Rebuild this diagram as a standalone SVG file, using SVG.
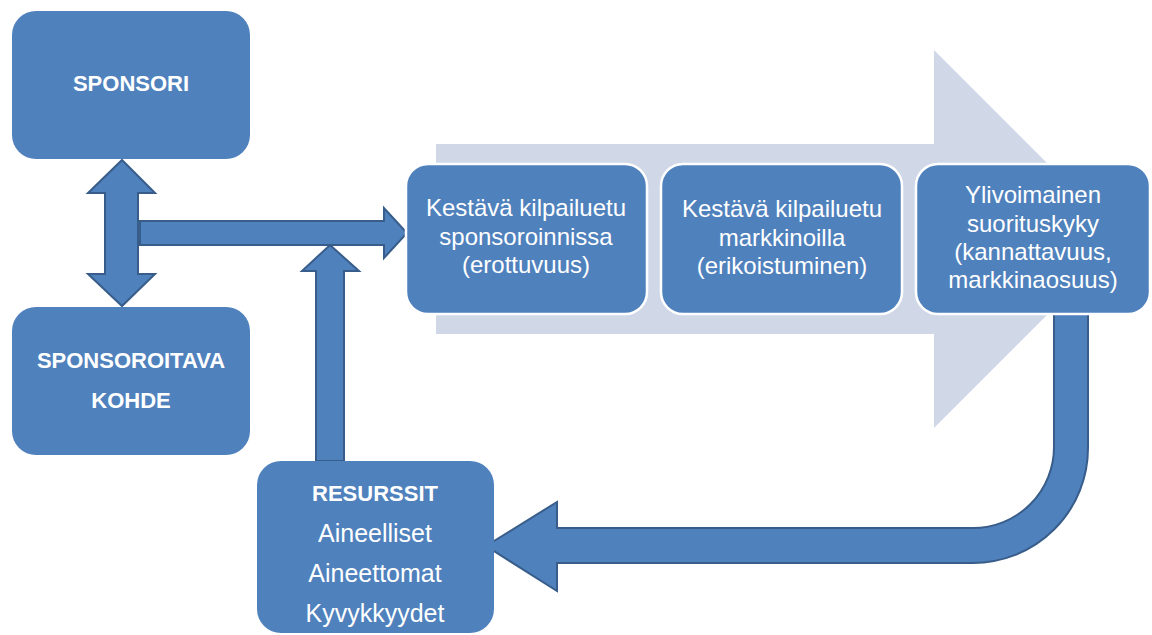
<svg xmlns="http://www.w3.org/2000/svg" width="1152" height="635" viewBox="0 0 1152 635">
<style>
.box{fill:#4F81BD;}
.mid{fill:#4F81BD;stroke:#FFFFFF;stroke-width:2.5;}
.arrow{fill:#4F81BD;stroke:#385D8A;stroke-width:2;stroke-linejoin:miter;}
.bg{fill:#D0D8E8;}
text{font-family:"Liberation Sans",Arial,sans-serif;fill:#FFFFFF;text-anchor:middle;}
.b{font-weight:bold;font-size:22px;}
.r{font-size:24px;}
.r2{font-size:25px;}
</style>
<rect width="1152" height="635" fill="#FFFFFF"/>
<g id="background-arrow">
<polygon class="bg" points="436,144 934,144 934,50 1123,239 934,428 934,334 436,334"/>
</g>
<g id="connectors">
<polygon class="arrow" points="122,160 155,193 138,193 138,274 155,274 122,306 88,274 105,274 105,193 88,193"/>
<polygon class="arrow" points="140,221 384,221 384,208 407,233 384,258 384,245 140,245"/>
<polygon class="arrow" points="330,245 359,271 344,271 344,461 316,461 316,271 302,271"/>
<path class="arrow" d="M1054,313 L1054,447 A81,81 0 0 1 973,528 L557,528 L557,502 L486,546 L557,591 L557,563 L973,563 A115,115 0 0 0 1088,448 L1088,313 Z"/>
</g>
<g id="sponsori">
<rect class="box" x="12" y="11" width="238" height="148" rx="24"/>
<text class="b" x="131" y="91">SPONSORI</text>
</g>
<g id="kohde">
<rect class="box" x="12" y="307" width="238" height="148" rx="24"/>
<text class="b" x="131" y="368">SPONSOROITAVA</text>
<text class="b" x="131" y="408">KOHDE</text>
</g>
<g id="resurssit">
<rect class="box" x="257" y="461" width="237" height="172" rx="24"/>
<text class="b" x="375" y="501">RESURSSIT</text>
<text class="r2" x="375" y="542">Aineelliset</text>
<text class="r2" x="375" y="582">Aineettomat</text>
<text class="r2" x="375" y="622">Kyvykkyydet</text>
</g>
<g id="step1">
<rect class="mid" x="406" y="164" width="241" height="150" rx="22"/>
<text class="r" x="526" y="216">Kestävä kilpailuetu</text>
<text class="r" x="526" y="245">sponsoroinnissa</text>
<text class="r" x="526" y="273">(erottuvuus)</text>
</g>
<g id="step2">
<rect class="mid" x="661" y="164" width="241" height="150" rx="22"/>
<text class="r" x="782" y="217">Kestävä kilpailuetu</text>
<text class="r" x="782" y="246">markkinoilla</text>
<text class="r" x="782" y="274">(erikoistuminen)</text>
</g>
<g id="step3">
<rect class="mid" x="916" y="164" width="234" height="150" rx="22"/>
<text class="r" x="1033" y="203">Ylivoimainen</text>
<text class="r" x="1033" y="232">suorituskyky</text>
<text class="r" x="1033" y="260">(kannattavuus,</text>
<text class="r" x="1033" y="288">markkinaosuus)</text>
</g>
</svg>
